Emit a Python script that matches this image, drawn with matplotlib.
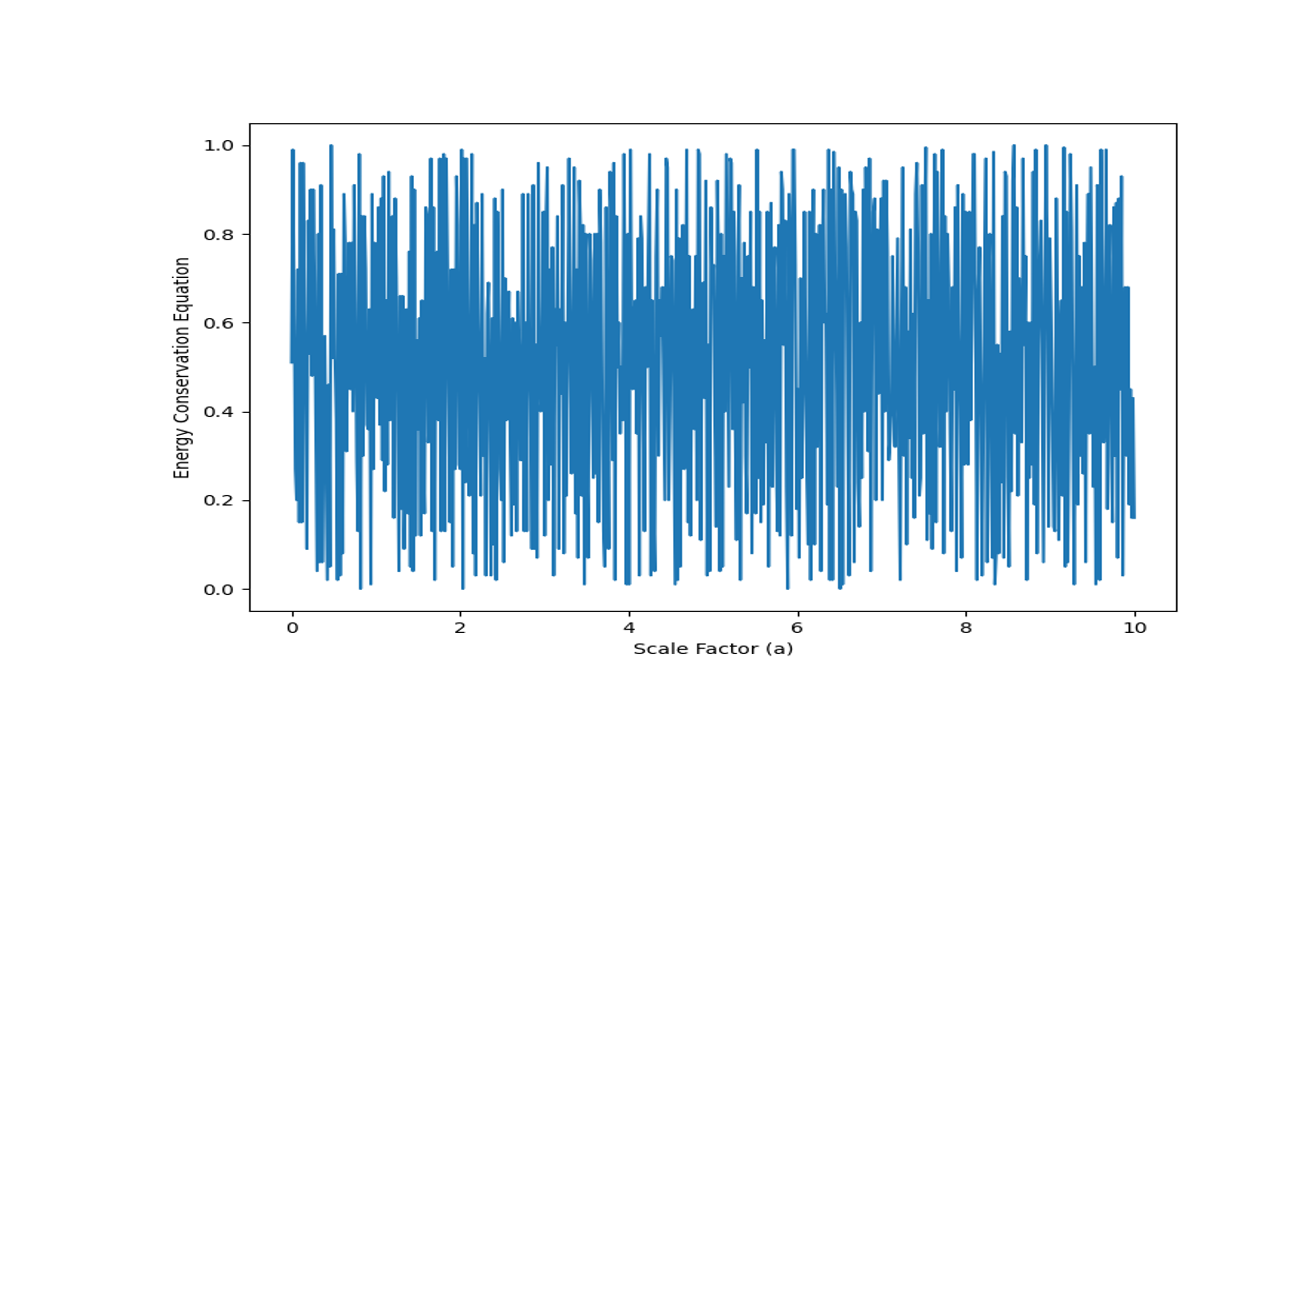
import numpy as np
import matplotlib
matplotlib.use("Agg")
import matplotlib.pyplot as plt
from PIL import Image

# outer swings, one row per unit of scale factor
row_0 = [.51,.99,.20,.72,.15,.96,.15,.96,.09,.83,.53,.90,.48,.90,.04,.80,.06,.91,.06,.35,.02,.46,.05,1.0,.52,.81,.02,.71,.03,.71,.08,.89,.60,.78,.45,.78,.40,.91,.13,.98,.00,.84,.30,.84,.36,.63,.01,.89,.27,.78]
row_1 = [.86,.37,.88,.29,.93,.22,.94,.38,.45,.84,.16,.88,.04,.66,.18,.66,.09,.26,.76,.05,.93,.04,.90,.12,.61,.12,.65,.30,.17,.86,.40,.97,.13,.86,.02,.75,.97,.13,.75,.98,.13,.97,.15,.72,.05,.72,.27,.93,.27,.99]
row_2 = [.00,.97,.24,.97,.42,.98,.08,.82,.03,.87,.21,.89,.30,.52,.03,.62,.03,.61,.10,.88,.02,.85,.20,.90,.06,.70,.38,.55,.12,.61,.19,.60,.13,.67,.29,.89,.13,.60,.13,.89,.09,.91,.09,.55,.07,.96,.45,.85,.12,.83]
row_3 = [.95,.20,.77,.03,.63,.55,.84,.09,.91,.08,.60,.21,.58,.97,.48,.95,.17,.72,.07,.92,.82,.01,.80,.26,.07,.80,.25,.80,.26,.80,.15,.90,.13,.05,.86,.40,.09,.94,.96,.02,.84,.50,.60,.35,.98,.55,.01,.80,.01,.99]
row_4 = [.63,.65,.35,.79,.03,.84,.13,.68,.50,.77,.98,.03,.04,.75,.90,.30,.65,.57,.20,.97,.95,.20,.40,.75,.01,.90,.02,.79,.05,.70,.50,.99,.15,.75,.12,.55,.75,.20,.99,.98,.11,.60,.92,.03,.55,.04,.86,.68,.14,.92]
row_5 = [.72,.04,.80,.05,.98,.60,.23,.97,.96,.36,.11,.75,.91,.02,.70,.42,.17,.75,.50,.85,.08,.68,.99,.25,.85,.15,.65,.19,.85,.05,.68,.87,.23,.70,.13,.82,.12,.94,.90,.55,.00,.89,.75,.12,.99,.99,.45,.07,.70,.25]
row_6 = [.45,.85,.10,.85,.02,.60,.90,.10,.55,.82,.04,.75,.90,.60,.99,.02,.90,.02,.985,.70,.95,.00,.90,.01,.85,.89,.03,.94,.90,.89,.06,.85,.14,.60,.25,.90,.40,.95,.97,.04,.60,.85,.88,.20,.70,.88,.20,.92,.40,.92]
row_7 = [.33,.40,.75,.42,.32,.55,.02,.58,.95,.30,.68,.10,.81,.25,.62,.16,.89,.96,.25,.91,.35,.80,.995,.11,.80,.09,.60,.98,.15,.94,.45,.99,.08,.84,.40,.80,.13,.68,.45,.86,.04,.91,.07,.89,.28,.85,.72,.28,.60,.98]
row_8 = [.98,.55,.02,.66,.03,.36,.75,.97,.06,.70,.07,.985,.01,.08,.55,.08,.84,.07,.94,.93,.25,.05,.92,1.0,.35,.86,.21,.70,.97,.55,.75,.02,.60,.25,.94,.19,.99,.08,.55,.75,.06,.68,1.0,.75,.14,.79,.14,.13,.88,.60]
row_9 = [.11,.55,.995,.05,.85,.06,.40,.98,.01,.45,.91,.19,.75,.30,.78,.06,.70,.89,.35,.95,.50,.01,.91,.89,.02,.99,.40,.99,.18,.70,.82,.30,.15,.86,.30,.87,.07,.88,.45,.93,.03,.45,.68,.30,.68,.19,.45,.16,.43,.16]

# estimated swings hidden inside the solid middle band
inner_0 = [.68,.27,.58,.34,.71,.22,.63,.41,.76,.30,.55,.24,.69,.36,.62,.19,.74,.44,.57,.28,.80,.33,.66,.23,.52,.38,.73,.26,.61,.42,.78,.31,.56,.21,.70,.35,.64,.29,.83,.40,.59,.25,.72,.37,.54,.18,.67,.32,.75,.43]
inner_1 = [.60,.24,.77,.39,.65,.28,.53,.20,.81,.34,.70,.41,.58,.26,.74,.31,.63,.17,.69,.45,.79,.29,.56,.36,.72,.23,.61,.40,.84,.33,.67,.27,.51,.19,.76,.38,.64,.30,.59,.22,.73,.42,.68,.25,.55,.35,.82,.28,.62,.44]
inner_2 = [.71,.32,.57,.21,.75,.37,.66,.26,.60,.43,.78,.18,.53,.30,.69,.39,.64,.24,.80,.34,.58,.27,.73,.41,.50,.20,.67,.33,.77,.23,.62,.38,.55,.29,.85,.36,.70,.25,.59,.42,.74,.16,.65,.31,.56,.40,.79,.22,.61,.35]
inner_3 = [.72,.28,.54,.37,.83,.24,.63,.44,.68,.19,.76,.33,.58,.26,.71,.40,.52,.30,.81,.21,.66,.36,.60,.27,.74,.43,.57,.17,.69,.32,.78,.39,.64,.23,.55,.34,.86,.29,.62,.41,.73,.25,.50,.38,.67,.20,.75,.31,.59,.45]
inner_4 = [.70,.26,.61,.35,.79,.42,.56,.22,.72,.30,.65,.18,.84,.37,.53,.28,.68,.44,.77,.24,.60,.33,.74,.39,.51,.20,.66,.31,.82,.27,.58,.41,.71,.23,.63,.36,.76,.16,.55,.34,.69,.43,.80,.29,.57,.25,.73,.38,.62,.21]
inner_5 = [.67,.32,.75,.40,.54,.19,.70,.28,.85,.36,.59,.24,.64,.42,.78,.30,.52,.22,.72,.35,.61,.17,.81,.39,.68,.26,.56,.33,.74,.44,.63,.20,.77,.31,.50,.27,.69,.37,.83,.23,.58,.41,.66,.29,.73,.18,.60,.34,.79,.38]
inner_6 = [.55,.25,.71,.43,.64,.21,.80,.32,.57,.36,.75,.27,.62,.19,.68,.40,.86,.30,.53,.23,.72,.38,.59,.16,.77,.34,.66,.28,.51,.42,.83,.24,.70,.35,.61,.20,.74,.31,.56,.39,.65,.26,.81,.44,.58,.22,.69,.33,.76,.29]
inner_7 = [.63,.37,.54,.18,.79,.30,.67,.41,.72,.24,.58,.34,.84,.27,.60,.43,.75,.21,.52,.36,.70,.29,.65,.17,.78,.39,.56,.25,.73,.32,.62,.44,.82,.23,.68,.35,.50,.19,.76,.28,.59,.40,.71,.33,.64,.22,.85,.38,.57,.26]
inner_8 = [.69,.31,.77,.42,.55,.20,.66,.35,.80,.27,.61,.16,.73,.39,.53,.24,.70,.45,.84,.30,.58,.22,.64,.37,.75,.19,.51,.33,.68,.41,.79,.26,.60,.28,.72,.36,.56,.18,.83,.43,.67,.23,.74,.32,.62,.38,.52,.25,.78,.34]
inner_9 = [.65,.21,.71,.40,.59,.29,.81,.35,.54,.17,.76,.43,.68,.26,.63,.31,.86,.37,.57,.23,.73,.42,.50,.19,.70,.33,.79,.28,.61,.39,.66,.24,.75,.36,.55,.30,.82,.20,.69,.44,.60,.27,.72,.34,.62,.41,.58,.38,.50,.35]

outer = row_0 + row_1 + row_2 + row_3 + row_4 + row_5 + row_6 + row_7 + row_8 + row_9
inner = inner_0 + inner_1 + inner_2 + inner_3 + inner_4 + inner_5 + inner_6 + inner_7 + inner_8 + inner_9

energy = []
for i in range(0, len(outer), 2):
    energy += outer[i:i + 2]
    if i % 6 == 0 and i < 480:
        energy += inner[i:i + 2]
scale_factor = np.linspace(0, 10, len(energy))

# drawn narrow and tall, then stretched to the final square like the reference
fig = plt.figure(figsize=(8.82, 12.42), dpi=100)
ax = fig.add_axes([249.4 / 1308, 1 - 611 / 1308, 927 / 1308, 488 / 1308])

ax.plot(scale_factor, energy)
ax.set_xlabel("Scale Factor (a)")
ax.set_ylabel("Energy Conservation Equation")

fig.canvas.draw()
pixels = np.asarray(fig.canvas.buffer_rgba())
Image.fromarray(pixels).convert("RGB").resize((1308, 1308), Image.BICUBIC).save("out.png")
